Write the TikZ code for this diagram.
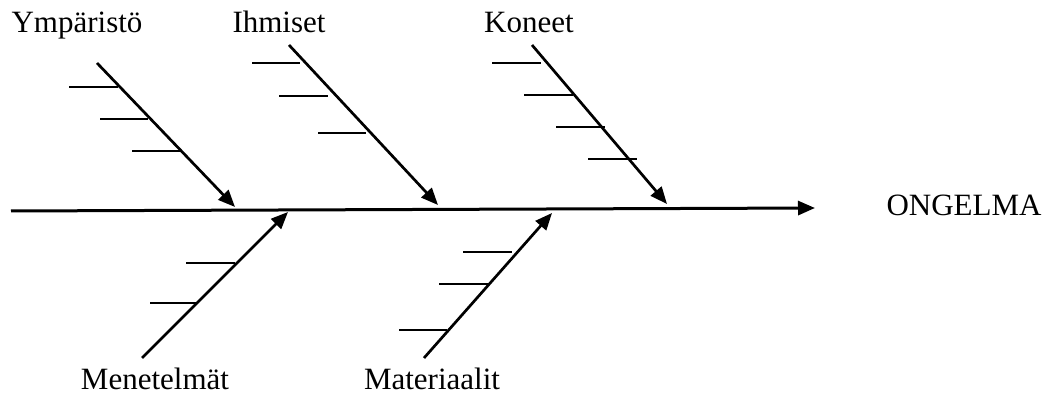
\documentclass[tikz,border=0pt]{standalone}
\usepackage{fontspec}
\setmainfont{Liberation Serif}
\usetikzlibrary{arrows.meta}

\begin{document}
\begin{tikzpicture}[x=1pt, y=-1pt,
    every node/.style={font=\fontsize{31}{37}\selectfont, inner sep=0pt},
    spine/.style={line width=3pt, -{Triangle[length=17pt, width=14pt]}},
    bone/.style={line width=2.7pt, -{Triangle[length=17pt, width=14pt]}},
    rib/.style={line width=2.1pt}]
  \useasboundingbox (0,0) rectangle (1045,403);

  % Main spine towards the problem
  \coordinate (tail) at (11,211);
  \coordinate (head) at (815,208);
  \draw[spine] (tail) -- (head);
  \node[anchor=base] (problem) at (964,216) {ONGELMA};

  % Cause labels, upper and lower row
  \node[anchor=base] (env)   at (77,33)   {Ympäristö};
  \node[anchor=base] (people) at (279,33) {Ihmiset};
  \node[anchor=base] (machines) at (529,33) {Koneet};
  \node[anchor=base] (methods) at (155,390) {Menetelmät};
  \node[anchor=base] (materials) at (432,390) {Materiaalit};

  % Bones: free end -> tip on the spine
  \foreach \name/\sx/\sy/\tx/\ty in {env/97/63/235/207,
                                     people/289/45/438/205,
                                     machines/532/45/667/204,
                                     methods/142/358/288/212,
                                     materials/424/358/552/213} {
    \coordinate (\name-start) at (\sx,\sy);
    \coordinate (\name-tip) at (\tx,\ty);
    \draw[bone] (\name-start) -- (\name-tip);
  }

  % Horizontal sub-cause ribs (y / left x / right x)
  \foreach \y/\xa/\xb in {87/69/118, 119/100/148, 151/132/180,
                          63/252/300, 96/279/328, 133/318/366,
                          63/492/541, 95/524/573, 127/556/605, 159/588/637,
                          263/186/235, 303/150/197,
                          252/463/512, 284/439/488, 330/399/447} {
    \draw[rib] (\xa,\y) -- (\xb,\y);
  }
\end{tikzpicture}
\end{document}
